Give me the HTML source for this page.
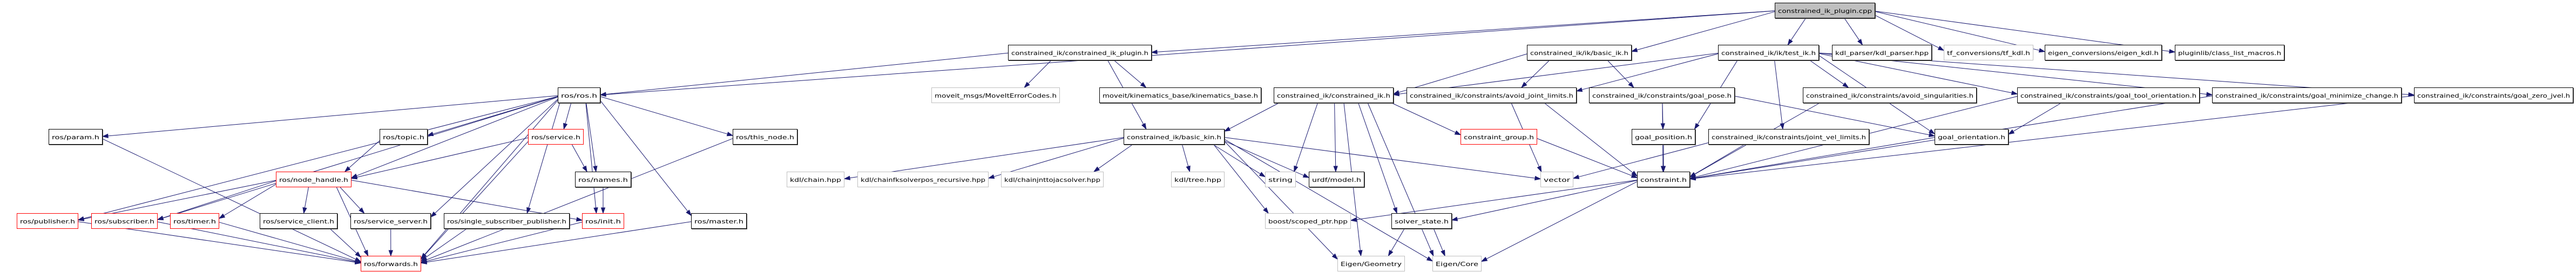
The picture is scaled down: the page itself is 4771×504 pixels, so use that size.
<!DOCTYPE html>
<html><head><meta charset="utf-8">
<style>
html,body{margin:0;padding:0;background:#fff;}
svg{display:block;}
text{font-family:"DejaVu Sans","Liberation Sans",sans-serif;font-size:10.5px;fill:#000;}
</style></head><body>
<svg id="g" width="4771" height="504" viewBox="0 0 4771 504" xmlns="http://www.w3.org/2000/svg">
<rect width="4771" height="504" fill="#fff"/>
<g id="edges" fill="none" stroke="#191970" stroke-width="1"></g>
<g id="heads" fill="#191970" stroke="#191970"></g>
<g id="nodes"></g>
</svg>
<script>
var R=[0,5,83,162,239,318,395,474],H=29;
var N={
cpp:[3287,3473,1,'g2','constrained_ik_plugin.cpp'],
plug:[1867,2133,2,'k','constrained_ik/constrained_ik_plugin.h'],
bik:[2828,3022,2,'k','constrained_ik/ik/basic_ik.h'],
tik:[3182,3369,2,'k','constrained_ik/ik/test_ik.h'],
kdlp:[3393,3578,2,'k','kdl_parser/kdl_parser.hpp'],
tfk:[3600,3766,2,'g','tf_conversions/tf_kdl.h'],
eig:[3787,4004,2,'k','eigen_conversions/eigen_kdl.h'],
plm:[4028,4231,2,'k','pluginlib/class_list_macros.h'],
ros:[1033,1112,3,'k','ros/ros.h'],
mec:[1725,1963,3,'g','moveit_msgs/MoveItErrorCodes.h'],
kb:[2036,2336,3,'k','moveit/kinematics_base/kinematics_base.h'],
cik:[2359,2581,3,'k','constrained_ik/constrained_ik.h'],
ajl:[2605,2920,3,'k','constrained_ik/constraints/avoid_joint_limits.h'],
gp:[2943,3213,3,'k','constrained_ik/constraints/goal_pose.h'],
as:[3339,3661,3,'k','constrained_ik/constraints/avoid_singularities.h'],
gto:[3736,4074,3,'k','constrained_ik/constraints/goal_tool_orientation.h'],
gmc:[4097,4448,3,'k','constrained_ik/constraints/goal_minimize_change.h'],
gzj:[4471,4766,3,'k','constrained_ik/constraints/goal_zero_jvel.h'],
param:[90,190,4,'k','ros/param.h'],
topic:[703,792,4,'k','ros/topic.h'],
svc:[978,1081,4,'r','ros/service.h'],
tn:[1357,1477,4,'k','ros/this_node.h'],
bkin:[2081,2268,4,'k','constrained_ik/basic_kin.h'],
cg:[2705,2847,4,'r','constraint_group.h'],
gpos:[3022,3140,4,'k','goal_position.h'],
jvl:[3164,3462,4,'k','constrained_ik/constraints/joint_vel_limits.h'],
go:[3583,3720,4,'k','goal_orientation.h'],
nh:[511,651,5,'r','ros/node_handle.h'],
names:[1065,1169,5,'k','ros/names.h'],
chain:[1457,1564,5,'g','kdl/chain.hpp'],
cfk:[1588,1831,5,'g','kdl/chainfksolverpos_recursive.hpp'],
cjj:[1854,2044,5,'g','kdl/chainjnttojacsolver.hpp'],
tree:[2169,2268,5,'g','kdl/tree.hpp'],
str:[2343,2400,5,'g','string'],
urdf:[2424,2527,5,'k','urdf/model.h'],
vec:[2853,2914,5,'g','vector'],
con:[3032,3130,5,'k','constraint.h'],
pub:[31,145,6,'r','ros/publisher.h'],
sub:[169,292,6,'r','ros/subscriber.h'],
tim:[315,406,6,'r','ros/timer.h'],
sc:[481,625,6,'k','ros/service_client.h'],
ss:[649,798,6,'k','ros/service_server.h'],
ssp:[822,1055,6,'k','ros/single_subscriber_publisher.h'],
init:[1078,1156,6,'r','ros/init.h'],
mas:[1280,1383,6,'k','ros/master.h'],
bsp:[2343,2502,6,'g','boost/scoped_ptr.hpp'],
sst:[2577,2689,6,'k','solver_state.h'],
fw:[668,780,7,'r','ros/forwards.h'],
egeo:[2477,2602,7,'g','Eigen/Geometry'],
ecore:[2653,2744,7,'g','Eigen/Core']
};
var E=[
'cpp plug','cpp ros','cpp bik','cpp tik','cpp kdlp','cpp tfk','cpp eig','cpp plm',
'plug ros','plug mec','plug kb','plug bkin',
'bik cik','bik ajl','bik gp',
'tik cik','tik ajl','tik gpos','tik jvl','tik as','tik gto','tik gmc','tik gzj','tik go',
'cik bkin','cik urdf','cik str','cik cg','cik sst','cik egeo','cik ecore',
'ajl vec','ajl con','gp gpos','gp con','gp go','cg con','gpos con','jvl con','jvl vec','go con','as con',
'gto go','gto con','gmc con','gzj con',
'con bsp','con sst','con ecore','sst egeo','sst ecore',
'bkin chain','bkin cfk','bkin cjj','bkin tree','bkin str','bkin urdf','bkin vec','bkin bsp','bkin egeo','bkin ecore',
'ros param','ros topic','ros svc','ros nh','ros pub','ros sub','ros names','ros ssp','ros ss','ros init','ros fw','ros tn','ros mas',
'svc nh','svc names','svc fw','topic nh',
'nh pub','nh sub','nh tim','nh sc','nh ss','nh init','nh fw','names init',
'param fw','pub fw','sub fw','tim fw','sc fw','ss fw','ssp fw','init fw','mas fw','tn fw'
];
var NS='http://www.w3.org/2000/svg';
function el(t,a,p){var e=document.createElementNS(NS,t);for(var k in a)e.setAttribute(k,a[k]);p.appendChild(e);return e;}
var gN=document.getElementById('nodes'),gE=document.getElementById('edges'),gH=document.getElementById('heads');
function box(n){var d=N[n];return {x1:d[0],x2:d[1],y1:R[d[2]],y2:R[d[2]]+H,cx:(d[0]+d[1])/2,cy:R[d[2]]+H/2};}
function clip(b,cx,cy,dx,dy){
  var tx=Infinity,ty=Infinity;
  if(dx!==0)tx=((dx>0?b.x2:b.x1)-cx)/dx; if(dy!==0)ty=((dy>0?b.y2:b.y1)-cy)/dy;
  var t=Math.min(Math.abs(tx),Math.abs(ty));return [cx+dx*t,cy+dy*t];}
E.forEach(function(s){var p=s.split(' '),a=box(p[0]),b=box(p[1]);
  var sx=Math.max(a.x1+8,Math.min(a.x2-8,a.cx+(b.cx-a.cx)*0.25));
  var tx=Math.max(b.x1+8,Math.min(b.x2-8,b.cx+(a.cx-b.cx)*0.25));
  var dx=tx-sx,dy=b.cy-a.cy;
  var s0=clip(a,sx,a.cy,dx,dy),t0=clip(b,tx,b.cy,-dx,-dy);
  var vx=t0[0]-s0[0],vy=t0[1]-s0[1],L=Math.sqrt(vx*vx+vy*vy);vx/=L;vy/=L;
  var hl=10,hw=3.5,ex=t0[0]-vx*hl,ey=t0[1]-vy*hl;
  el('path',{d:'M'+s0[0].toFixed(1)+','+s0[1].toFixed(1)+'L'+ex.toFixed(1)+','+ey.toFixed(1)},gE);
  el('polygon',{points:t0[0]+','+t0[1]+' '+(ex-vy*hw)+','+(ey+vx*hw)+' '+(ex+vy*hw)+','+(ey-vx*hw)},gH);
});
for(var k in N){var d=N[k],b=box(k);
  var st=d[3],stroke=st==='r'?'#ff0000':(st==='g'?'#bfbfbf':'#000'),fill=st==='g2'?'#bfbfbf':'#fff';
  if(st!=='g'&&st!=='r') el('rect',{x:b.x1+1.5,y:b.y1+1.5,width:b.x2-b.x1-1,height:H-1,fill:'none',stroke:'#555','stroke-width':1},gN);
  el('rect',{x:b.x1+0.5,y:b.y1+0.5,width:b.x2-b.x1-1,height:H-1,fill:fill,stroke:stroke,'stroke-width':1},gN);
  var t=el('text',{x:b.cx,y:b.y1+19,'text-anchor':'middle',textLength:(b.x2-b.x1-12),lengthAdjust:'spacingAndGlyphs'},gN);
  t.textContent=d[4];}
</script>
</body></html>
